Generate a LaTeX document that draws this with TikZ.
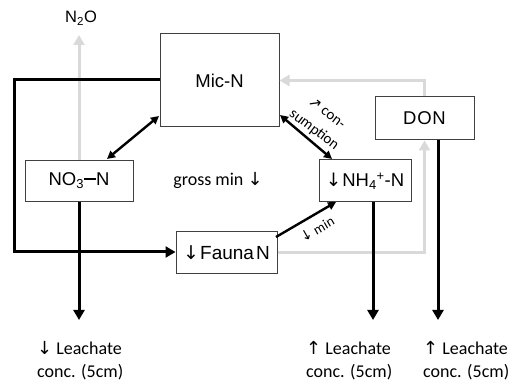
\documentclass[tikz,border=0pt]{standalone}
\usepackage{fontspec}
\setmainfont{Carlito}
\newfontfamily\arialf{Liberation Sans}
\newfontfamily\dvf{DejaVu Sans}
\usetikzlibrary{arrows.meta}
\definecolor{lgray}{HTML}{D9D9D9}
\definecolor{bord}{HTML}{404040}
\newcommand{\arrdn}{{\dvf\char"2193}}
\newcommand{\arrup}{{\dvf\char"2191}}
\newcommand{\arrne}{{\dvf\char"2197}}
\begin{document}
\begin{tikzpicture}[x=1pt,y=-1pt,
  box/.style={draw=bord,line width=1pt,fill=white,font=\arialf\fontsize{18.5}{21}\selectfont,inner sep=0pt,anchor=center},
  thickblk/.style={line width=3pt,draw=black,-{Triangle[length=10pt,width=11pt]}},
  dbl/.style={line width=2.4pt,draw=black,{Triangle[length=8pt,width=8pt]}-{Triangle[length=8pt,width=8pt]}},
  grayln/.style={line width=3pt,draw=lgray,-{Triangle[length=10pt,width=11pt]}},
  lab/.style={font=\fontsize{18}{23}\selectfont,align=left,inner sep=0pt,anchor=west}]
\useasboundingbox (0,0) rectangle (522,387);
% boxes
\node[box,minimum width=119pt,minimum height=93pt] (mic) at (219.5,80.5) {Mic-N};
\node[box,minimum width=108pt,minimum height=41pt] (no3) at (79,181) {NO\textsubscript{3}\rule[0.33em]{0.65em}{0.08em}N};
\node[box,minimum width=101pt,minimum height=42pt,font=\arialf\fontsize{19}{21}\selectfont] (fauna) at (226.5,253) {\arrdn\kern1pt Fauna\kern2pt N};
\node[box,minimum width=92pt,minimum height=42pt] (nh4) at (365,181) {\arrdn\kern1pt NH\textsubscript{4}\kern-0.2pt\textsuperscript{+}-N};
\node[box,minimum width=99pt,minimum height=43pt] (don) at (424.5,118.5) {D\kern0.8pt O\kern0.8pt N};
% N2O
\node[font=\arialf\fontsize{16.5}{18}\selectfont,inner sep=0pt] (n2o) at (81,18) {N\textsubscript{2}O};
\coordinate (n2otip) at (79,35);
\draw[grayln] (no3.north) -- (n2otip);
% gray lines
\draw[grayln] (don.north) |- (mic.east);
\draw[grayln] (fauna.east) -| (don.south);
% thick black loop
\coordinate (lc1) at (14,80);
\coordinate (lc2) at (14,252);
\draw[thickblk] (mic.west |- lc1) -- (lc1) -- (lc2) -- (fauna.west |- lc2);
% leachate arrows
\coordinate (e1) at (79,320);
\coordinate (e2) at (373,320);
\coordinate (e3) at (438,320);
\coordinate (s2) at (373,202);
\coordinate (s3) at (438,140);
\draw[thickblk] (no3.south) -- (e1);
\draw[thickblk] (nh4.south -| s2) -- (e2);
\draw[thickblk] (don.south -| s3) -- (e3);
\node[lab] (l1) at (37,361) {\arrdn\ Leachate\\conc. (5cm)};
\node[lab] (l2) at (306,361) {\arrup\ Leachate\\conc. (5cm)};
\node[lab] (l3) at (423,361) {\arrup\ Leachate\\conc. (5cm)};
% double arrows
\coordinate (a1) at (107,159);
\coordinate (a2) at (159,116);
\draw[dbl] (a1) -- (a2);
\coordinate (b1) at (280,115);
\coordinate (b2) at (332,159);
\draw[dbl] (b1) -- (b2);
\coordinate (c1) at (276,237);
\coordinate (c2) at (336,202);
\draw[line width=2.4pt,-{Triangle[length=8pt,width=8pt]}] (c1) -- (c2);
% labels
\node[font=\fontsize{18}{20}\selectfont,inner sep=0pt] (gm) at (218,180) {gross min \arrdn};
\node[font=\fontsize{15}{21}\selectfont,align=center,rotate=-37,inner sep=0pt] (cons) at (320,122) {\arrne\ con-\\sumption};
\node[font=\fontsize{14}{16}\selectfont,rotate=30,inner sep=0pt] (mn) at (317,229) {\arrdn\ min};
\end{tikzpicture}
\end{document}
